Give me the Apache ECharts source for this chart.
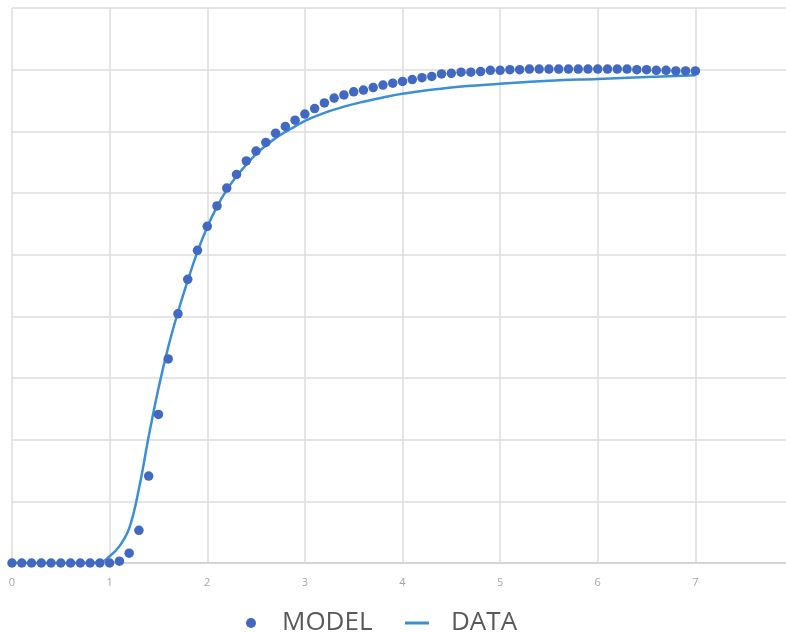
<!DOCTYPE html>
<html>
<head>
<meta charset="utf-8">
<script src="https://cdn.jsdelivr.net/npm/echarts@6/dist/echarts.min.js"></script>
<style>
html,body{margin:0;padding:0;background:#fff;overflow:hidden;width:786px;height:633px;}
#chart{width:800px;height:633px;}
</style>
</head>
<body>
<div id="chart"></div>
<script>
// MODEL: x from 0 to 7 step 0.1
var modelX = [0,0.1,0.2,0.3,0.4,0.5,0.6,0.7,0.8,0.9,1.0,1.1,1.2,1.3,1.4,1.5,1.6,1.7,1.8,1.9,2.0,2.1,2.2,2.3,2.4,2.5,2.6,2.7,2.8,2.9,3.0,3.1,3.2,3.3,3.4,3.5,3.6,3.7,3.8,3.9,4.0,4.1,4.2,4.3,4.4,4.5,4.6,4.7,4.8,4.9,5.0,5.1,5.2,5.3,5.4,5.5,5.6,5.7,5.8,5.9,6.0,6.1,6.2,6.3,6.4,6.5,6.6,6.7,6.8,6.9,7.0];
var modelY = [0,0,0,0,0,0,0,0,0,0,0,0.03,0.16,0.53,1.41,2.41,3.31,4.04,4.6,5.07,5.46,5.79,6.08,6.3,6.52,6.68,6.82,6.97,7.08,7.18,7.28,7.37,7.46,7.54,7.59,7.64,7.67,7.71,7.75,7.78,7.81,7.84,7.87,7.89,7.93,7.94,7.96,7.96,7.97,7.99,7.99,8.0,8.0,8.01,8.01,8.01,8.01,8.01,8.01,8.01,8.01,8.01,8.01,8.01,8.0,8.0,7.99,7.99,7.98,7.98,7.98];
// DATA line
var dataX = [0,0.5,0.9,1.0,1.1,1.2,1.3,1.4,1.5,1.6,1.7,1.8,1.9,2.0,2.1,2.2,2.3,2.4,2.5,2.6,2.7,2.8,2.9,3.0,3.2,3.4,3.6,3.8,4.0,4.5,5.0,5.5,6.0,6.5,7.0];
var dataY = [0,0,0.01,0.11,0.27,0.56,1.2,2.05,2.83,3.5,4.07,4.58,5.05,5.45,5.78,6.05,6.27,6.46,6.63,6.77,6.89,6.99,7.08,7.17,7.3,7.4,7.48,7.55,7.61,7.71,7.77,7.82,7.85,7.88,7.91];
var xTicks = [0,1,2,3,4,5,6,7,8];

var modelPts = modelX.map(function(x,i){return [x, modelY[i]];});
var dataPts = dataX.map(function(x,i){return [x, dataY[i]];});

var chart = echarts.init(document.getElementById('chart'), null, {renderer:'canvas'});
var gridColor = '#dcdcdc';
chart.setOption({
  animation:false,
  backgroundColor:'#ffffff',
  grid:{left:12, top:8, right:7, bottom:70, containLabel:false},
  xAxis:{
    type:'value', min:0, max:8, interval:1,
    axisLine:{show:true, lineStyle:{color:'#d0d0d0', width:1.5}},
    axisTick:{show:false},
    axisLabel:{show:true, color:'#a6a6a6', fontSize:11, fontFamily:'Open Sans', margin:14,
      formatter:function(v){return xTicks.indexOf(v)>=0 ? String(v) : '';}},
    splitLine:{show:true, lineStyle:{color:gridColor, width:1.5}}
  },
  yAxis:{
    type:'value', min:0, max:9, interval:1,
    axisLine:{show:false},
    axisTick:{show:false},
    axisLabel:{show:false},
    splitLine:{show:true, lineStyle:{color:gridColor, width:1.5}}
  },
  legend:[
    {
      data:[{name:'MODEL', icon:'circle'}],
      left:241, top:603, itemWidth:10, itemHeight:10,
      textStyle:{color:'#595959', fontSize:26, fontFamily:'Open Sans', lineHeight:30, padding:[0,0,0,21]}
    },
    {
      data:[{name:'DATA', icon:'rect'}],
      left:400, top:603, itemWidth:24, itemHeight:3,
      textStyle:{color:'#595959', fontSize:26, fontFamily:'Open Sans', lineHeight:30, padding:[0,0,0,17]}
    }
  ],
  series:[
    {
      name:'DATA', type:'line', data:dataPts, smooth:0.4, showSymbol:false, symbol:'none',
      lineStyle:{color:'#3b8fd6', width:2.5}, itemStyle:{color:'#3b8fd6'}, z:2
    },
    {
      name:'MODEL', type:'scatter', data:modelPts, symbol:'circle', symbolSize:9.5,
      itemStyle:{color:'#4169c2', opacity:1}, z:3
    }
  ]
});
</script>
</body>
</html>
